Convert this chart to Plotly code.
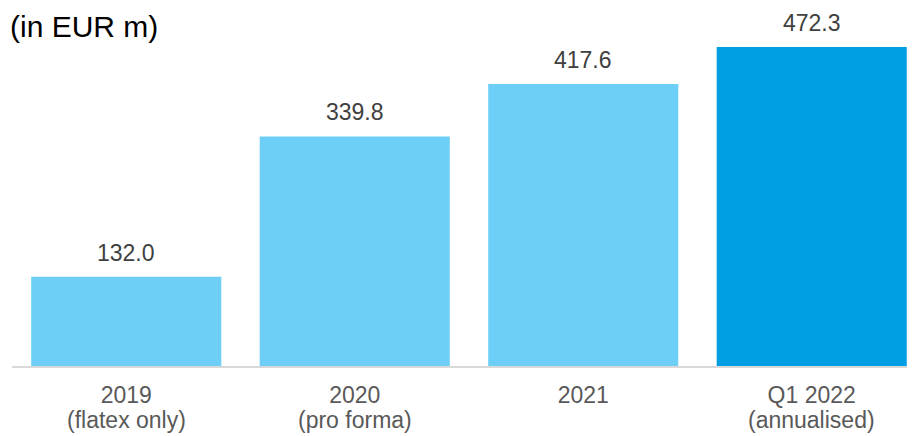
import plotly.graph_objects as go

categories = ["2019", "2020", "2021", "Q1 2022"]
sublabels = ["(flatex only)", "(pro forma)", "", "(annualised)"]
values = [132.0, 339.8, 417.6, 472.3]
value_labels = ["132.0", "339.8", "417.6", "472.3"]
bar_colors = ["#6DCFF6", "#6DCFF6", "#6DCFF6", "#009FE3"]
title_text = "(in EUR m)"

FONT = "Arial, 'Liberation Sans', sans-serif"

fig = go.Figure(go.Bar(
    x=categories,
    y=values,
    marker=dict(color=bar_colors, line=dict(width=0)),
    cliponaxis=False,
    hoverinfo="skip",
))

annotations = [dict(
    text=title_text,
    xref="paper", yref="paper",
    x=-4 / 903, y=1,
    xanchor="left", yanchor="top",
    showarrow=False,
    font=dict(family=FONT, size=30, color="#000000"),
)]
for i, (val, lab) in enumerate(zip(values, value_labels)):
    annotations.append(dict(
        text=lab,
        xref="x", yref="y",
        x=i, y=val,
        xanchor="center", yanchor="middle",
        yshift=24,
        showarrow=False,
        font=dict(family=FONT, size=23, color="#404040"),
    ))
for i, sub in enumerate(sublabels):
    if sub:
        annotations.append(dict(
            text=sub,
            xref="x", yref="paper",
            x=i, y=0,
            xanchor="center", yanchor="middle",
            yshift=-54,
            showarrow=False,
            font=dict(family=FONT, size=23, color="#595959"),
        ))

fig.update_layout(
    width=907,
    height=428,
    margin=dict(l=4, r=0, t=0, b=70),
    paper_bgcolor="white",
    plot_bgcolor="white",
    bargap=0.168,
    showlegend=False,
    font=dict(family=FONT),
    xaxis=dict(
        type="category",
        range=[-0.5, 3.452],
        showline=True,
        linecolor="#D9D9D9",
        linewidth=2,
        ticks="",
        ticklabelstandoff=7,
        showgrid=False,
        zeroline=False,
        tickfont=dict(family=FONT, size=23, color="#595959"),
    ),
    yaxis=dict(
        visible=False,
        range=[0, 530],
        showgrid=False,
        zeroline=False,
    ),
    annotations=annotations,
)

fig.write_html("out.html")
